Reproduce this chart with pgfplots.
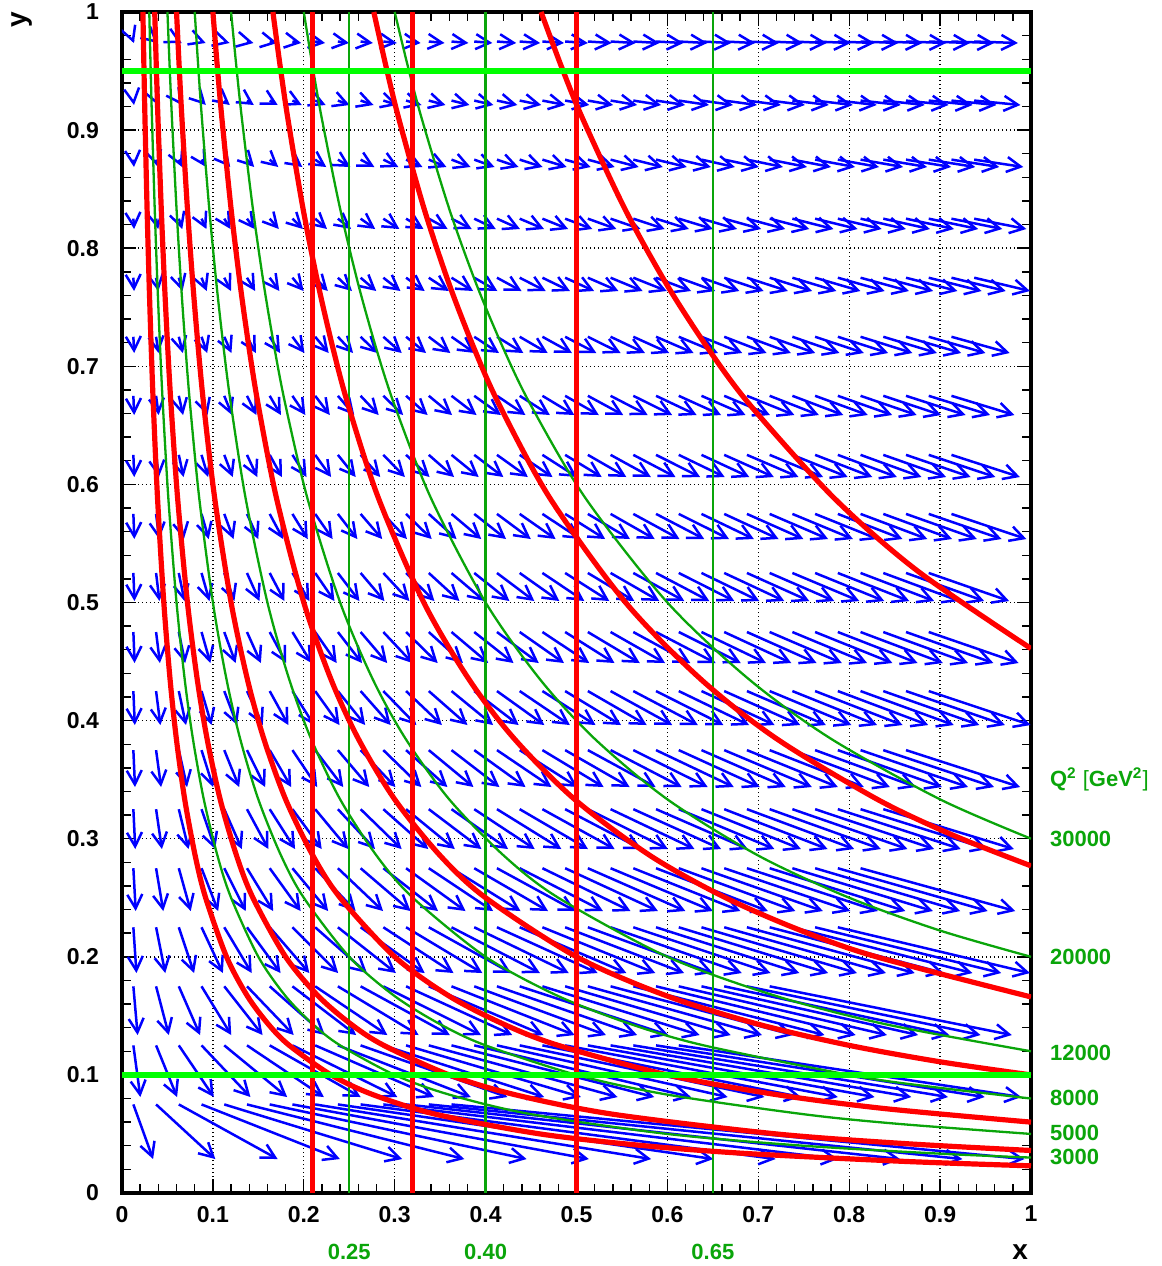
\documentclass[border=0pt]{standalone}
\usepackage{fontspec}
\setmainfont{Liberation Sans}
\usepackage{pgfplots}
\pgfplotsset{compat=1.18}
\usetikzlibrary{arrows.meta}
\definecolor{dgreen}{RGB}{10,165,10}
\definecolor{bgreen}{RGB}{0,255,0}
\definecolor{ablue}{RGB}{0,0,255}
\definecolor{ared}{RGB}{255,0,0}
\tikzset{arr/.style={ablue, line width=1.25pt, -{Straight Barb[length=7pt,width=7.5pt]}}}
\begin{document}
\begin{tikzpicture}
\useasboundingbox (-61pt,-36.5pt) rectangle (520pt,596.5pt);
\begin{axis}[
  at={(0,0)}, anchor=south west,
  scale only axis, width=454.5pt, height=590.5pt,
  xmin=0, xmax=1, ymin=0, ymax=1,
  xtick={0,0.1,0.2,0.3,0.4,0.5,0.6,0.7,0.8,0.9,1},
  ytick={0,0.1,0.2,0.3,0.4,0.5,0.6,0.7,0.8,0.9,1},
  minor x tick num=4, minor y tick num=4,
  tick align=inside,
  major tick length=7pt, minor tick length=4.5pt,
  every tick/.style={black, line width=0.7pt},
  axis line style={black, line width=1.6pt},
  grid=major,
  major grid style={black, line width=0.7pt, dash pattern=on 0.7pt off 1.3pt},
  clip mode=individual,
  ticklabel style={font=\bfseries\fontsize{11.5}{13}\selectfont},
  yticklabel style={xshift=-8pt},
  xticklabel style={yshift=-3pt},
  /pgf/number format/assume math mode=true,
]
% ---- arrows, one row per generated y ----
\addplot[arr, quiver={u=\thisrow{u}, v=-0.04625}] table {
x y u
0.0125 0.075 0.0217
0.0375 0.075 0.0652
0.0625 0.075 0.1087
0.0875 0.075 0.1522
0.1125 0.075 0.1957
0.1375 0.075 0.2391
0.1625 0.075 0.2826
0.1875 0.075 0.3261
0.2125 0.075 0.3696
0.2375 0.075 0.4130
0.2625 0.075 0.4565
0.2875 0.075 0.5000
0.3125 0.075 0.5435
0.3375 0.075 0.5870
0.3625 0.075 0.6304
};
\addplot[arr, quiver={u=\thisrow{u}, v=-0.04375}] table {
x y u
0.0125 0.125 0.0077
0.0375 0.125 0.0231
0.0625 0.125 0.0385
0.0875 0.125 0.0538
0.1125 0.125 0.0692
0.1375 0.125 0.0846
0.1625 0.125 0.1000
0.1875 0.125 0.1154
0.2125 0.125 0.1308
0.2375 0.125 0.1462
0.2625 0.125 0.1615
0.2875 0.125 0.1769
0.3125 0.125 0.1923
0.3375 0.125 0.2077
0.3625 0.125 0.2231
0.3875 0.125 0.2385
0.4125 0.125 0.2538
0.4375 0.125 0.2692
0.4625 0.125 0.2846
0.4875 0.125 0.3000
0.5125 0.125 0.3154
0.5375 0.125 0.3308
0.5625 0.125 0.3462
0.5875 0.125 0.3615
0.6125 0.125 0.3769
};
\addplot[arr, quiver={u=\thisrow{u}, v=-0.04125}] table {
x y u
0.0125 0.175 0.0047
0.0375 0.175 0.0140
0.0625 0.175 0.0234
0.0875 0.175 0.0327
0.1125 0.175 0.0421
0.1375 0.175 0.0514
0.1625 0.175 0.0607
0.1875 0.175 0.0701
0.2125 0.175 0.0794
0.2375 0.175 0.0888
0.2625 0.175 0.0981
0.2875 0.175 0.1075
0.3125 0.175 0.1168
0.3375 0.175 0.1262
0.3625 0.175 0.1355
0.3875 0.175 0.1449
0.4125 0.175 0.1542
0.4375 0.175 0.1636
0.4625 0.175 0.1729
0.4875 0.175 0.1822
0.5125 0.175 0.1916
0.5375 0.175 0.2009
0.5625 0.175 0.2103
0.5875 0.175 0.2196
0.6125 0.175 0.2290
0.6375 0.175 0.2383
0.6625 0.175 0.2477
0.6875 0.175 0.2570
0.7125 0.175 0.2664
};
\addplot[arr, quiver={u=\thisrow{u}, v=-0.03875}] table {
x y u
0.0125 0.225 0.0034
0.0375 0.225 0.0101
0.0625 0.225 0.0168
0.0875 0.225 0.0235
0.1125 0.225 0.0302
0.1375 0.225 0.0369
0.1625 0.225 0.0436
0.1875 0.225 0.0503
0.2125 0.225 0.0570
0.2375 0.225 0.0638
0.2625 0.225 0.0705
0.2875 0.225 0.0772
0.3125 0.225 0.0839
0.3375 0.225 0.0906
0.3625 0.225 0.0973
0.3875 0.225 0.1040
0.4125 0.225 0.1107
0.4375 0.225 0.1174
0.4625 0.225 0.1242
0.4875 0.225 0.1309
0.5125 0.225 0.1376
0.5375 0.225 0.1443
0.5625 0.225 0.1510
0.5875 0.225 0.1577
0.6125 0.225 0.1644
0.6375 0.225 0.1711
0.6625 0.225 0.1779
0.6875 0.225 0.1846
0.7125 0.225 0.1913
0.7375 0.225 0.1980
0.7625 0.225 0.2047
0.7875 0.225 0.2114
};
\addplot[arr, quiver={u=\thisrow{u}, v=-0.03625}] table {
x y u
0.0125 0.275 0.0026
0.0375 0.275 0.0079
0.0625 0.275 0.0131
0.0875 0.275 0.0183
0.1125 0.275 0.0236
0.1375 0.275 0.0288
0.1625 0.275 0.0340
0.1875 0.275 0.0393
0.2125 0.275 0.0445
0.2375 0.275 0.0497
0.2625 0.275 0.0550
0.2875 0.275 0.0602
0.3125 0.275 0.0654
0.3375 0.275 0.0707
0.3625 0.275 0.0759
0.3875 0.275 0.0812
0.4125 0.275 0.0864
0.4375 0.275 0.0916
0.4625 0.275 0.0969
0.4875 0.275 0.1021
0.5125 0.275 0.1073
0.5375 0.275 0.1126
0.5625 0.275 0.1178
0.5875 0.275 0.1230
0.6125 0.275 0.1283
0.6375 0.275 0.1335
0.6625 0.275 0.1387
0.6875 0.275 0.1440
0.7125 0.275 0.1492
0.7375 0.275 0.1545
0.7625 0.275 0.1597
0.7875 0.275 0.1649
0.8125 0.275 0.1702
};
\addplot[arr, quiver={u=\thisrow{u}, v=-0.03375}] table {
x y u
0.0125 0.325 0.0021
0.0375 0.325 0.0064
0.0625 0.325 0.0107
0.0875 0.325 0.0150
0.1125 0.325 0.0193
0.1375 0.325 0.0236
0.1625 0.325 0.0279
0.1875 0.325 0.0322
0.2125 0.325 0.0365
0.2375 0.325 0.0408
0.2625 0.325 0.0451
0.2875 0.325 0.0494
0.3125 0.325 0.0536
0.3375 0.325 0.0579
0.3625 0.325 0.0622
0.3875 0.325 0.0665
0.4125 0.325 0.0708
0.4375 0.325 0.0751
0.4625 0.325 0.0794
0.4875 0.325 0.0837
0.5125 0.325 0.0880
0.5375 0.325 0.0923
0.5625 0.325 0.0966
0.5875 0.325 0.1009
0.6125 0.325 0.1052
0.6375 0.325 0.1094
0.6625 0.325 0.1137
0.6875 0.325 0.1180
0.7125 0.325 0.1223
0.7375 0.325 0.1266
0.7625 0.325 0.1309
0.7875 0.325 0.1352
0.8125 0.325 0.1395
0.8375 0.325 0.1438
};
\addplot[arr, quiver={u=\thisrow{u}, v=-0.03125}] table {
x y u
0.0125 0.375 0.0018
0.0375 0.375 0.0055
0.0625 0.375 0.0091
0.0875 0.375 0.0127
0.1125 0.375 0.0164
0.1375 0.375 0.0200
0.1625 0.375 0.0236
0.1875 0.375 0.0273
0.2125 0.375 0.0309
0.2375 0.375 0.0345
0.2625 0.375 0.0382
0.2875 0.375 0.0418
0.3125 0.375 0.0455
0.3375 0.375 0.0491
0.3625 0.375 0.0527
0.3875 0.375 0.0564
0.4125 0.375 0.0600
0.4375 0.375 0.0636
0.4625 0.375 0.0673
0.4875 0.375 0.0709
0.5125 0.375 0.0745
0.5375 0.375 0.0782
0.5625 0.375 0.0818
0.5875 0.375 0.0855
0.6125 0.375 0.0891
0.6375 0.375 0.0927
0.6625 0.375 0.0964
0.6875 0.375 0.1000
0.7125 0.375 0.1036
0.7375 0.375 0.1073
0.7625 0.375 0.1109
0.7875 0.375 0.1145
0.8125 0.375 0.1182
0.8375 0.375 0.1218
0.8625 0.375 0.1255
};
\addplot[arr, quiver={u=\thisrow{u}, v=-0.02875}] table {
x y u
0.0125 0.425 0.0016
0.0375 0.425 0.0047
0.0625 0.425 0.0079
0.0875 0.425 0.0110
0.1125 0.425 0.0142
0.1375 0.425 0.0174
0.1625 0.425 0.0205
0.1875 0.425 0.0237
0.2125 0.425 0.0268
0.2375 0.425 0.0300
0.2625 0.425 0.0331
0.2875 0.425 0.0363
0.3125 0.425 0.0394
0.3375 0.425 0.0426
0.3625 0.425 0.0457
0.3875 0.425 0.0489
0.4125 0.425 0.0521
0.4375 0.425 0.0552
0.4625 0.425 0.0584
0.4875 0.425 0.0615
0.5125 0.425 0.0647
0.5375 0.425 0.0678
0.5625 0.425 0.0710
0.5875 0.425 0.0741
0.6125 0.425 0.0773
0.6375 0.425 0.0804
0.6625 0.425 0.0836
0.6875 0.425 0.0868
0.7125 0.425 0.0899
0.7375 0.425 0.0931
0.7625 0.425 0.0962
0.7875 0.425 0.0994
0.8125 0.425 0.1025
0.8375 0.425 0.1057
0.8625 0.425 0.1088
0.8875 0.425 0.1120
};
\addplot[arr, quiver={u=\thisrow{u}, v=-0.02625}] table {
x y u
0.0125 0.475 0.0014
0.0375 0.475 0.0042
0.0625 0.475 0.0070
0.0875 0.475 0.0097
0.1125 0.475 0.0125
0.1375 0.475 0.0153
0.1625 0.475 0.0181
0.1875 0.475 0.0209
0.2125 0.475 0.0237
0.2375 0.475 0.0265
0.2625 0.475 0.0292
0.2875 0.475 0.0320
0.3125 0.475 0.0348
0.3375 0.475 0.0376
0.3625 0.475 0.0404
0.3875 0.475 0.0432
0.4125 0.475 0.0460
0.4375 0.475 0.0487
0.4625 0.475 0.0515
0.4875 0.475 0.0543
0.5125 0.475 0.0571
0.5375 0.475 0.0599
0.5625 0.475 0.0627
0.5875 0.475 0.0655
0.6125 0.475 0.0682
0.6375 0.475 0.0710
0.6625 0.475 0.0738
0.6875 0.475 0.0766
0.7125 0.475 0.0794
0.7375 0.475 0.0822
0.7625 0.475 0.0850
0.7875 0.475 0.0877
0.8125 0.475 0.0905
0.8375 0.475 0.0933
0.8625 0.475 0.0961
0.8875 0.475 0.0989
};
\addplot[arr, quiver={u=\thisrow{u}, v=-0.02375}] table {
x y u
0.0125 0.525 0.0012
0.0375 0.525 0.0037
0.0625 0.525 0.0062
0.0875 0.525 0.0087
0.1125 0.525 0.0112
0.1375 0.525 0.0137
0.1625 0.525 0.0162
0.1875 0.525 0.0187
0.2125 0.525 0.0212
0.2375 0.525 0.0237
0.2625 0.525 0.0262
0.2875 0.525 0.0287
0.3125 0.525 0.0312
0.3375 0.525 0.0337
0.3625 0.525 0.0362
0.3875 0.525 0.0387
0.4125 0.525 0.0411
0.4375 0.525 0.0436
0.4625 0.525 0.0461
0.4875 0.525 0.0486
0.5125 0.525 0.0511
0.5375 0.525 0.0536
0.5625 0.525 0.0561
0.5875 0.525 0.0586
0.6125 0.525 0.0611
0.6375 0.525 0.0636
0.6625 0.525 0.0661
0.6875 0.525 0.0686
0.7125 0.525 0.0711
0.7375 0.525 0.0736
0.7625 0.525 0.0761
0.7875 0.525 0.0786
0.8125 0.525 0.0810
0.8375 0.525 0.0835
0.8625 0.525 0.0860
0.8875 0.525 0.0885
};
\addplot[arr, quiver={u=\thisrow{u}, v=-0.02125}] table {
x y u
0.0125 0.575 0.0011
0.0375 0.575 0.0034
0.0625 0.575 0.0056
0.0875 0.575 0.0079
0.1125 0.575 0.0102
0.1375 0.575 0.0124
0.1625 0.575 0.0147
0.1875 0.575 0.0169
0.2125 0.575 0.0192
0.2375 0.575 0.0214
0.2625 0.575 0.0237
0.2875 0.575 0.0260
0.3125 0.575 0.0282
0.3375 0.575 0.0305
0.3625 0.575 0.0327
0.3875 0.575 0.0350
0.4125 0.575 0.0372
0.4375 0.575 0.0395
0.4625 0.575 0.0418
0.4875 0.575 0.0440
0.5125 0.575 0.0463
0.5375 0.575 0.0485
0.5625 0.575 0.0508
0.5875 0.575 0.0530
0.6125 0.575 0.0553
0.6375 0.575 0.0576
0.6625 0.575 0.0598
0.6875 0.575 0.0621
0.7125 0.575 0.0643
0.7375 0.575 0.0666
0.7625 0.575 0.0689
0.7875 0.575 0.0711
0.8125 0.575 0.0734
0.8375 0.575 0.0756
0.8625 0.575 0.0779
0.8875 0.575 0.0801
0.9125 0.575 0.0824
};
\addplot[arr, quiver={u=\thisrow{u}, v=-0.01875}] table {
x y u
0.0125 0.625 0.0010
0.0375 0.625 0.0031
0.0625 0.625 0.0052
0.0875 0.625 0.0072
0.1125 0.625 0.0093
0.1375 0.625 0.0113
0.1625 0.625 0.0134
0.1875 0.625 0.0155
0.2125 0.625 0.0175
0.2375 0.625 0.0196
0.2625 0.625 0.0216
0.2875 0.625 0.0237
0.3125 0.625 0.0258
0.3375 0.625 0.0278
0.3625 0.625 0.0299
0.3875 0.625 0.0320
0.4125 0.625 0.0340
0.4375 0.625 0.0361
0.4625 0.625 0.0381
0.4875 0.625 0.0402
0.5125 0.625 0.0423
0.5375 0.625 0.0443
0.5625 0.625 0.0464
0.5875 0.625 0.0485
0.6125 0.625 0.0505
0.6375 0.625 0.0526
0.6625 0.625 0.0546
0.6875 0.625 0.0567
0.7125 0.625 0.0588
0.7375 0.625 0.0608
0.7625 0.625 0.0629
0.7875 0.625 0.0649
0.8125 0.625 0.0670
0.8375 0.625 0.0691
0.8625 0.625 0.0711
0.8875 0.625 0.0732
0.9125 0.625 0.0753
};
\addplot[arr, quiver={u=\thisrow{u}, v=-0.01625}] table {
x y u
0.0125 0.675 0.0009
0.0375 0.675 0.0028
0.0625 0.675 0.0047
0.0875 0.675 0.0066
0.1125 0.675 0.0085
0.1375 0.675 0.0104
0.1625 0.675 0.0123
0.1875 0.675 0.0142
0.2125 0.675 0.0161
0.2375 0.675 0.0180
0.2625 0.675 0.0199
0.2875 0.675 0.0218
0.3125 0.675 0.0237
0.3375 0.675 0.0256
0.3625 0.675 0.0275
0.3875 0.675 0.0294
0.4125 0.675 0.0313
0.4375 0.675 0.0332
0.4625 0.675 0.0351
0.4875 0.675 0.0370
0.5125 0.675 0.0389
0.5375 0.675 0.0408
0.5625 0.675 0.0427
0.5875 0.675 0.0446
0.6125 0.675 0.0465
0.6375 0.675 0.0484
0.6625 0.675 0.0503
0.6875 0.675 0.0522
0.7125 0.675 0.0541
0.7375 0.675 0.0560
0.7625 0.675 0.0579
0.7875 0.675 0.0598
0.8125 0.675 0.0617
0.8375 0.675 0.0636
0.8625 0.675 0.0655
0.8875 0.675 0.0674
0.9125 0.675 0.0693
};
\addplot[arr, quiver={u=\thisrow{u}, v=-0.01375}] table {
x y u
0.0125 0.725 0.0009
0.0375 0.725 0.0026
0.0625 0.725 0.0044
0.0875 0.725 0.0062
0.1125 0.725 0.0079
0.1375 0.725 0.0097
0.1625 0.725 0.0114
0.1875 0.725 0.0132
0.2125 0.725 0.0149
0.2375 0.725 0.0167
0.2625 0.725 0.0185
0.2875 0.725 0.0202
0.3125 0.725 0.0220
0.3375 0.725 0.0237
0.3625 0.725 0.0255
0.3875 0.725 0.0272
0.4125 0.725 0.0290
0.4375 0.725 0.0308
0.4625 0.725 0.0325
0.4875 0.725 0.0343
0.5125 0.725 0.0360
0.5375 0.725 0.0378
0.5625 0.725 0.0395
0.5875 0.725 0.0413
0.6125 0.725 0.0431
0.6375 0.725 0.0448
0.6625 0.725 0.0466
0.6875 0.725 0.0483
0.7125 0.725 0.0501
0.7375 0.725 0.0518
0.7625 0.725 0.0536
0.7875 0.725 0.0554
0.8125 0.725 0.0571
0.8375 0.725 0.0589
0.8625 0.725 0.0606
0.8875 0.725 0.0624
0.9125 0.725 0.0641
};
\addplot[arr, quiver={u=\thisrow{u}, v=-0.01125}] table {
x y u
0.0125 0.775 0.0008
0.0375 0.775 0.0025
0.0625 0.775 0.0041
0.0875 0.775 0.0057
0.1125 0.775 0.0074
0.1375 0.775 0.0090
0.1625 0.775 0.0106
0.1875 0.775 0.0123
0.2125 0.775 0.0139
0.2375 0.775 0.0155
0.2625 0.775 0.0172
0.2875 0.775 0.0188
0.3125 0.775 0.0205
0.3375 0.775 0.0221
0.3625 0.775 0.0237
0.3875 0.775 0.0254
0.4125 0.775 0.0270
0.4375 0.775 0.0286
0.4625 0.775 0.0303
0.4875 0.775 0.0319
0.5125 0.775 0.0336
0.5375 0.775 0.0352
0.5625 0.775 0.0368
0.5875 0.775 0.0385
0.6125 0.775 0.0401
0.6375 0.775 0.0417
0.6625 0.775 0.0434
0.6875 0.775 0.0450
0.7125 0.775 0.0466
0.7375 0.775 0.0483
0.7625 0.775 0.0499
0.7875 0.775 0.0516
0.8125 0.775 0.0532
0.8375 0.775 0.0548
0.8625 0.775 0.0565
0.8875 0.775 0.0581
0.9125 0.775 0.0597
0.9375 0.775 0.0614
};
\addplot[arr, quiver={u=\thisrow{u}, v=-0.00875}] table {
x y u
0.0125 0.825 0.0008
0.0375 0.825 0.0023
0.0625 0.825 0.0038
0.0875 0.825 0.0054
0.1125 0.825 0.0069
0.1375 0.825 0.0084
0.1625 0.825 0.0100
0.1875 0.825 0.0115
0.2125 0.825 0.0130
0.2375 0.825 0.0145
0.2625 0.825 0.0161
0.2875 0.825 0.0176
0.3125 0.825 0.0191
0.3375 0.825 0.0207
0.3625 0.825 0.0222
0.3875 0.825 0.0237
0.4125 0.825 0.0253
0.4375 0.825 0.0268
0.4625 0.825 0.0283
0.4875 0.825 0.0299
0.5125 0.825 0.0314
0.5375 0.825 0.0329
0.5625 0.825 0.0345
0.5875 0.825 0.0360
0.6125 0.825 0.0375
0.6375 0.825 0.0391
0.6625 0.825 0.0406
0.6875 0.825 0.0421
0.7125 0.825 0.0436
0.7375 0.825 0.0452
0.7625 0.825 0.0467
0.7875 0.825 0.0482
0.8125 0.825 0.0498
0.8375 0.825 0.0513
0.8625 0.825 0.0528
0.8875 0.825 0.0544
0.9125 0.825 0.0559
0.9375 0.825 0.0574
};
\addplot[arr, quiver={u=\thisrow{u}, v=-0.00625}] table {
x y u
0.0125 0.875 0.0007
0.0375 0.875 0.0022
0.0625 0.875 0.0036
0.0875 0.875 0.0050
0.1125 0.875 0.0065
0.1375 0.875 0.0079
0.1625 0.875 0.0094
0.1875 0.875 0.0108
0.2125 0.875 0.0122
0.2375 0.875 0.0137
0.2625 0.875 0.0151
0.2875 0.875 0.0165
0.3125 0.875 0.0180
0.3375 0.875 0.0194
0.3625 0.875 0.0209
0.3875 0.875 0.0223
0.4125 0.875 0.0237
0.4375 0.875 0.0252
0.4625 0.875 0.0266
0.4875 0.875 0.0281
0.5125 0.875 0.0295
0.5375 0.875 0.0309
0.5625 0.875 0.0324
0.5875 0.875 0.0338
0.6125 0.875 0.0353
0.6375 0.875 0.0367
0.6625 0.875 0.0381
0.6875 0.875 0.0396
0.7125 0.875 0.0410
0.7375 0.875 0.0424
0.7625 0.875 0.0439
0.7875 0.875 0.0453
0.8125 0.875 0.0468
0.8375 0.875 0.0482
0.8625 0.875 0.0496
0.8875 0.875 0.0511
0.9125 0.875 0.0525
0.9375 0.875 0.0540
};
\addplot[arr, quiver={u=\thisrow{u}, v=-0.00375}] table {
x y u
0.0125 0.925 0.0007
0.0375 0.925 0.0020
0.0625 0.925 0.0034
0.0875 0.925 0.0047
0.1125 0.925 0.0061
0.1375 0.925 0.0075
0.1625 0.925 0.0088
0.1875 0.925 0.0102
0.2125 0.925 0.0115
0.2375 0.925 0.0129
0.2625 0.925 0.0142
0.2875 0.925 0.0156
0.3125 0.925 0.0170
0.3375 0.925 0.0183
0.3625 0.925 0.0197
0.3875 0.925 0.0210
0.4125 0.925 0.0224
0.4375 0.925 0.0237
0.4625 0.925 0.0251
0.4875 0.925 0.0265
0.5125 0.925 0.0278
0.5375 0.925 0.0292
0.5625 0.925 0.0305
0.5875 0.925 0.0319
0.6125 0.925 0.0332
0.6375 0.925 0.0346
0.6625 0.925 0.0360
0.6875 0.925 0.0373
0.7125 0.925 0.0387
0.7375 0.925 0.0400
0.7625 0.925 0.0414
0.7875 0.925 0.0427
0.8125 0.925 0.0441
0.8375 0.925 0.0455
0.8625 0.925 0.0468
0.8875 0.925 0.0482
0.9125 0.925 0.0495
0.9375 0.925 0.0509
};
\addplot[arr, quiver={u=\thisrow{u}, v=-0.00125}] table {
x y u
0.0125 0.975 0.0006
0.0375 0.975 0.0019
0.0625 0.975 0.0032
0.0875 0.975 0.0045
0.1125 0.975 0.0058
0.1375 0.975 0.0071
0.1625 0.975 0.0083
0.1875 0.975 0.0096
0.2125 0.975 0.0109
0.2375 0.975 0.0122
0.2625 0.975 0.0135
0.2875 0.975 0.0148
0.3125 0.975 0.0160
0.3375 0.975 0.0173
0.3625 0.975 0.0186
0.3875 0.975 0.0199
0.4125 0.975 0.0212
0.4375 0.975 0.0225
0.4625 0.975 0.0237
0.4875 0.975 0.0250
0.5125 0.975 0.0263
0.5375 0.975 0.0276
0.5625 0.975 0.0289
0.5875 0.975 0.0302
0.6125 0.975 0.0315
0.6375 0.975 0.0327
0.6625 0.975 0.0340
0.6875 0.975 0.0353
0.7125 0.975 0.0366
0.7375 0.975 0.0379
0.7625 0.975 0.0392
0.7875 0.975 0.0404
0.8125 0.975 0.0417
0.8375 0.975 0.0430
0.8625 0.975 0.0443
0.8875 0.975 0.0456
0.9125 0.975 0.0469
0.9375 0.975 0.0481
};
% ---- green Q^2 lines ----
\addplot[dgreen, line width=1.15pt, smooth] coordinates {(0.03,1) (0.0315,0.9524) (0.033,0.9091) (0.036,0.8333) (0.039,0.7692) (0.042,0.7143) (0.045,0.6667) (0.051,0.5882) (0.06,0.5) (0.069,0.4348) (0.078,0.3846) (0.09,0.3333) (0.105,0.2857) (0.12,0.25) (0.15,0.2) (0.18,0.1667) (0.21,0.1429) (0.24,0.125) (0.3,0.1) (0.36,0.0833) (0.45,0.0667) (0.6,0.05) (0.75,0.04) (0.9,0.0333) (1,0.03)};
\addplot[dgreen, line width=1.15pt, smooth] coordinates {(0.05,1) (0.0525,0.9524) (0.055,0.9091) (0.06,0.8333) (0.065,0.7692) (0.07,0.7143) (0.075,0.6667) (0.085,0.5882) (0.1,0.5) (0.115,0.4348) (0.13,0.3846) (0.15,0.3333) (0.175,0.2857) (0.2,0.25) (0.25,0.2) (0.3,0.1667) (0.35,0.1429) (0.4,0.125) (0.5,0.1) (0.6,0.0833) (0.75,0.0667) (0.85,0.0588) (1,0.05)};
\addplot[dgreen, line width=1.15pt, smooth] coordinates {(0.08,1) (0.084,0.9524) (0.088,0.9091) (0.096,0.8333) (0.104,0.7692) (0.112,0.7143) (0.12,0.6667) (0.136,0.5882) (0.16,0.5) (0.184,0.4348) (0.208,0.3846) (0.24,0.3333) (0.28,0.2857) (0.32,0.25) (0.4,0.2) (0.48,0.1667) (0.56,0.1429) (0.64,0.125) (0.8,0.1) (0.88,0.0909) (1,0.08)};
\addplot[dgreen, line width=1.15pt, smooth] coordinates {(0.12,1) (0.126,0.9524) (0.132,0.9091) (0.144,0.8333) (0.156,0.7692) (0.168,0.7143) (0.18,0.6667) (0.204,0.5882) (0.24,0.5) (0.276,0.4348) (0.312,0.3846) (0.36,0.3333) (0.42,0.2857) (0.48,0.25) (0.6,0.2) (0.72,0.1667) (0.84,0.1429) (1,0.12)};
\addplot[dgreen, line width=1.15pt, smooth] coordinates {(0.2,1) (0.21,0.9524) (0.22,0.9091) (0.24,0.8333) (0.26,0.7692) (0.28,0.7143) (0.3,0.6667) (0.34,0.5882) (0.4,0.5) (0.46,0.4348) (0.52,0.3846) (0.6,0.3333) (0.7,0.2857) (0.8,0.25) (0.9,0.2222) (1,0.2)};
\addplot[dgreen, line width=1.15pt, smooth] coordinates {(0.3,1) (0.315,0.9524) (0.33,0.9091) (0.36,0.8333) (0.39,0.7692) (0.42,0.7143) (0.45,0.6667) (0.51,0.5882) (0.6,0.5) (0.69,0.4348) (0.78,0.3846) (0.9,0.3333) (1,0.3)};
% green x lines
\addplot[dgreen, line width=1.15pt] coordinates {(0.25,0) (0.25,1)};
\addplot[dgreen, line width=1.15pt] coordinates {(0.40,0) (0.40,1)};
\addplot[dgreen, line width=1.15pt] coordinates {(0.65,0) (0.65,1)};
% ---- red lines ----
\addplot[ared, line width=2.6pt, smooth] coordinates {(0.023,1) (0.02415,0.9524) (0.0253,0.9091) (0.0276,0.8333) (0.0299,0.7692) (0.0322,0.7143) (0.0345,0.6667) (0.0391,0.5882) (0.046,0.5) (0.0529,0.4348) (0.0598,0.3846) (0.069,0.3333) (0.0805,0.2857) (0.092,0.25) (0.115,0.2) (0.138,0.1667) (0.161,0.1429) (0.184,0.125) (0.23,0.1) (0.276,0.0833) (0.345,0.0667) (0.46,0.05) (0.575,0.04) (0.69,0.0333) (0.8625,0.0267) (1,0.023)};
\addplot[ared, line width=2.6pt, smooth] coordinates {(0.036,1) (0.0378,0.9524) (0.0396,0.9091) (0.0432,0.8333) (0.0468,0.7692) (0.0504,0.7143) (0.054,0.6667) (0.0612,0.5882) (0.072,0.5) (0.0828,0.4348) (0.0936,0.3846) (0.108,0.3333) (0.126,0.2857) (0.144,0.25) (0.18,0.2) (0.216,0.1667) (0.252,0.1429) (0.288,0.125) (0.36,0.1) (0.432,0.0833) (0.54,0.0667) (0.72,0.05) (0.864,0.0417) (1,0.036)};
\addplot[ared, line width=2.6pt, smooth] coordinates {(0.06,1) (0.063,0.9524) (0.066,0.9091) (0.072,0.8333) (0.078,0.7692) (0.084,0.7143) (0.09,0.6667) (0.102,0.5882) (0.12,0.5) (0.138,0.4348) (0.156,0.3846) (0.18,0.3333) (0.21,0.2857) (0.24,0.25) (0.3,0.2) (0.36,0.1667) (0.42,0.1429) (0.48,0.125) (0.6,0.1) (0.72,0.0833) (0.84,0.0714) (1,0.06)};
\addplot[ared, line width=2.6pt, smooth] coordinates {(0.1,1) (0.105,0.9524) (0.11,0.9091) (0.12,0.8333) (0.13,0.7692) (0.14,0.7143) (0.15,0.6667) (0.17,0.5882) (0.2,0.5) (0.23,0.4348) (0.26,0.3846) (0.3,0.3333) (0.35,0.2857) (0.4,0.25) (0.5,0.2) (0.6,0.1667) (0.7,0.1429) (0.8,0.125) (0.9,0.1111) (1,0.1)};
\addplot[ared, line width=2.6pt, smooth] coordinates {(0.166,1) (0.1743,0.9524) (0.1826,0.9091) (0.1992,0.8333) (0.2158,0.7692) (0.2324,0.7143) (0.249,0.6667) (0.2822,0.5882) (0.332,0.5) (0.3818,0.4348) (0.4316,0.3846) (0.498,0.3333) (0.581,0.2857) (0.664,0.25) (0.747,0.2222) (0.83,0.2) (1,0.166)};
\addplot[ared, line width=2.6pt, smooth] coordinates {(0.277,1) (0.2909,0.9524) (0.3047,0.9091) (0.3324,0.8333) (0.3601,0.7692) (0.3878,0.7143) (0.4155,0.6667) (0.4709,0.5882) (0.554,0.5) (0.6371,0.4348) (0.7202,0.3846) (0.831,0.3333) (0.9141,0.303) (1,0.277)};
\addplot[ared, line width=2.6pt, smooth] coordinates {(0.461,1) (0.4841,0.9524) (0.5071,0.9091) (0.5532,0.8333) (0.5993,0.7692) (0.6454,0.7143) (0.6915,0.6667) (0.7837,0.5882) (0.8759,0.5263) (1,0.461)};
\addplot[ared, line width=2.6pt] coordinates {(0.21,0) (0.21,1)};
\addplot[ared, line width=2.6pt] coordinates {(0.32,0) (0.32,1)};
\addplot[ared, line width=2.6pt] coordinates {(0.5,0) (0.5,1)};
% ---- y cuts ----
\addplot[bgreen, line width=2.8pt] coordinates {(0,0.95) (1,0.95)};
\addplot[bgreen, line width=2.8pt] coordinates {(0,0.1) (1,0.1)};
% ---- labels ----
\node[font=\bfseries\fontsize{14}{16}\selectfont] at ([yshift=-29.5pt]axis cs:0.988,0) {x};
\node[font=\bfseries\fontsize{14}{16}\selectfont, rotate=90] at ([xshift=-50pt,yshift=-4pt]axis cs:0,1) {y};
\begin{scope}[every node/.style={text=dgreen, font=\bfseries\fontsize{11}{13}\selectfont}]
\node at ([yshift=-29.5pt]axis cs:0.25,0) {0.25};
\node at ([yshift=-29.5pt]axis cs:0.40,0) {0.40};
\node at ([yshift=-29.5pt]axis cs:0.65,0) {0.65};
\node[anchor=west] at ([xshift=6pt]axis cs:1,0.35) {Q\textsuperscript{2} {\mdseries[}GeV\textsuperscript{2}{\mdseries]}};
\node[anchor=west] at ([xshift=6pt]axis cs:1,0.3) {30000};
\node[anchor=west] at ([xshift=6pt]axis cs:1,0.2) {20000};
\node[anchor=west] at ([xshift=6pt]axis cs:1,0.119) {12000};
\node[anchor=west] at ([xshift=6pt]axis cs:1,0.0804) {8000};
\node[anchor=west] at ([xshift=6pt]axis cs:1,0.0508) {5000};
\node[anchor=west] at ([xshift=6pt]axis cs:1,0.0305) {3000};
\end{scope}
\end{axis}
\end{tikzpicture}
\end{document}
